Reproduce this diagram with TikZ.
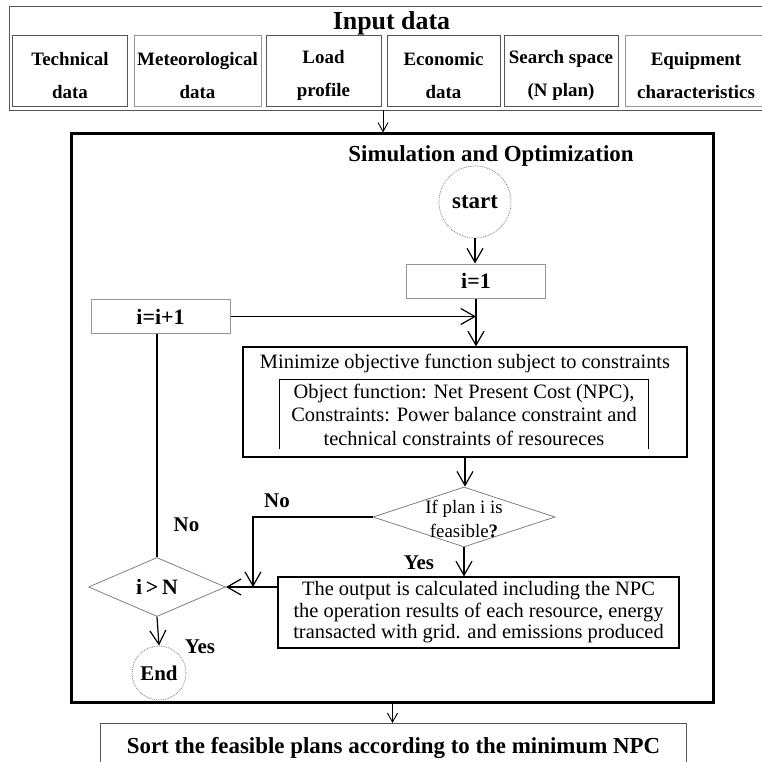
\documentclass[tikz,border=0pt]{standalone}
\usepackage{fontspec}
\setmainfont{Liberation Serif}
\usepackage{tikz}
\usetikzlibrary{arrows.meta}
\usetikzlibrary{shapes}
\usetikzlibrary{calc}
\definecolor{framegray}{RGB}{85,85,85}
\definecolor{lightframe}{RGB}{150,150,150}
\tikzset{>={Straight Barb[length=14bp, width=16bp]}}
\tikzset{
    flow/.style={->, line width=1.2bp},
    smallflow/.style={-{Straight Barb[length=9bp, width=10bp]}, line width=0.9bp},
    databox/.style={draw=framegray, line width=1bp, minimum height=70bp, inner sep=0pt, align=center, font=\bfseries\fontsize{19}{33}\selectfont, text height=55bp},
    stepbox/.style={draw=lightframe, line width=1bp, minimum width=139bp, minimum height=34bp, inner sep=0pt, font=\bfseries\fontsize{22}{26}\selectfont},
    terminal/.style={circle, draw=gray, densely dotted, line width=0.8bp, inner sep=0pt},
    decision/.style={diamond, draw=gray, line width=0.8bp, inner sep=0pt},
    outbox/.style={draw, line width=1.2bp, inner sep=0pt},
    bodytext/.style={font=\fontsize{20.5}{23.5}\selectfont, align=center, inner sep=0pt},
    tag/.style={font=\bfseries\fontsize{21}{24}\selectfont, inner sep=0pt},
}

\begin{document}
\begin{tikzpicture}[x=1bp, y=-1bp]
            \useasboundingbox (0, 0) rectangle (762, 762);
            \node[draw=framegray, line width=1bp, minimum width=760bp, minimum height=103bp] (inputbox) at (390, 58.5) {};
            \node[tag, font=\bfseries\fontsize{26}{30}\selectfont] (inputtitle) at (391.5, 23) {Input data};
            \node[databox, minimum width=114bp] (technical) at (70, 71) {Technical\\data};
            \node[databox, minimum width=127bp, draw=lightframe] (meteo) at (197.5, 71) {Meteorological\\data};
            \node[databox, minimum width=115bp] (load) at (323.5, 71) {Load\\profile};
            \node[databox, minimum width=113bp] (economic) at (443.5, 71) {Economic\\data};
            \node[databox, minimum width=114bp] (search) at (561, 71) {Search space\\(N plan)};
            \node[databox, minimum width=142bp, draw=lightframe] (equipment) at (696, 71) {Equipment\\characteristics};
            \coordinate (feed) at (383, 110);

            \node[draw, line width=3bp, minimum width=641bp, minimum height=568bp] (sim) at (392.5, 418) {};
            \draw[smallflow] (feed) -- (feed |- sim.north);
            \node[tag, font=\bfseries\fontsize{23}{26}\selectfont] (simtitle) at (491, 156) {Simulation and Optimization};

            \node[terminal, minimum size=72bp, font=\bfseries\fontsize{23}{26}\selectfont] (start) at (475, 202) {start};
            \node[stepbox] (init) at (476, 281) {i=1};
            \node[stepbox] (incr) at (160.5, 316.5) {i=i+1};

            \node[outbox, minimum width=444bp, minimum height=110bp] (minimize) at (465, 402) {};
            \node[bodytext] (minititle) at (465, 363) {Minimize objective function subject to constraints};
            \node[bodytext, minimum width=369bp, minimum height=69bp] (minidetail) at (464, 414.5) {Object function: Net Present Cost (NPC),\\Constraints: Power balance constraint and\\technical constraints of resoureces};
            \draw[line width=1bp] (minidetail.south west) |- (minidetail.north east) -- (minidetail.south east);

            \node[decision, minimum width=182bp, minimum height=60bp] (feasible) at (464, 517) {};
            \node[bodytext, font=\fontsize{19}{24}\selectfont] (feasibletext) at (464, 519) {If plan i is\\feasible\textbf{?}};

            \node[outbox, minimum width=401bp, minimum height=71bp, font=\fontsize{20.5}{21.5}\selectfont, align=center] (output) at (478.5, 612.5) {The output is calculated including the NPC\\the operation results of each resource, energy\\transacted with grid. and emissions produced};

            \node[decision, minimum width=137bp, minimum height=59bp, font=\bfseries\fontsize{22}{26}\selectfont] (check) at (157, 587) {i\,>\,N};
            \node[terminal, minimum size=54bp, font=\bfseries\fontsize{21}{24}\selectfont] (finish) at (159, 673) {End};

            \node[tag] (nofeasible) at (277, 501) {No};
            \node[tag] (yesfeasible) at (419, 563) {Yes};
            \node[tag] (nocheck) at (186.5, 525) {No};
            \node[tag] (yescheck) at (200, 647) {Yes};

            \draw[flow] (start.south) -- (start.south |- init.north);
            \draw[flow] (init.south) -- (init.south |- minimize.north);
            \draw[flow] (incr.east) -- (incr.east -| init.south);
            \draw[flow] (minimize.south) -- (minimize.south |- feasible.north);
            \draw[flow] (feasible.south) -- (feasible.south |- output.north);
            \coordinate (nobend) at (253, 517);
            \draw[flow] (feasible.west) -- (nobend) -- (nobend |- check.east);
            \draw[flow] (output.west |- check.east) -- (check.east);
            \draw[line width=1.2bp] (incr.south -| check.north) -- (check.north);
            \draw[flow] (check.south) -- (finish.north);

            \node[draw=framegray, line width=1bp, minimum width=585bp, minimum height=48bp, anchor=north, font=\bfseries\fontsize{23}{26}\selectfont, inner ysep=8bp] (sort) at (393.5, 723) {Sort the feasible plans according to the minimum NPC};
            \draw[smallflow] (sim.south) -- (sim.south |- sort.north);
        \end{tikzpicture}
\end{document}
